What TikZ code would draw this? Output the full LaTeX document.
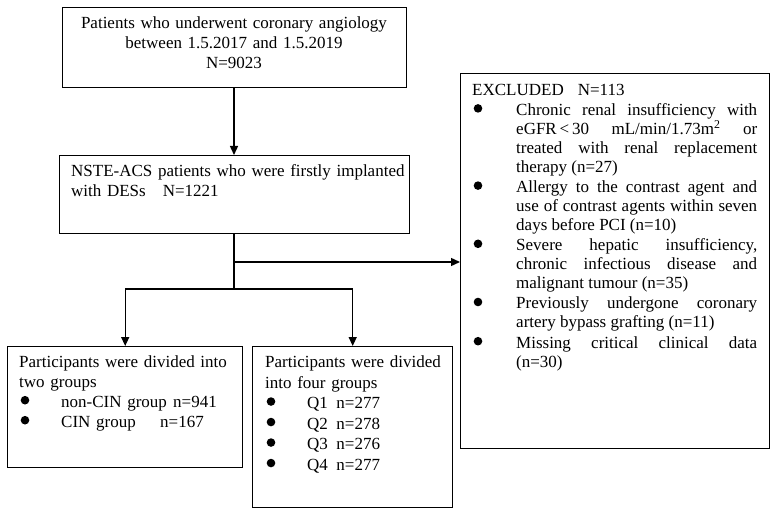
\documentclass[tikz,border=0pt]{standalone}
\usepackage{fontspec}
\setmainfont{Liberation Serif}
\usepackage{graphicx}
\usetikzlibrary{arrows.meta}
\newcommand{\blt}{\hspace{1.5pt}\tikz[baseline=-7pt]\fill (0pt,0pt) circle[radius=4.3pt];}
\begin{document}
\begin{tikzpicture}[x=1pt,y=-1pt,
  box/.style={draw, line width=1.4pt, inner sep=0pt, anchor=north west},
  txt/.style={inner sep=0pt, anchor=north west, font=\fontsize{17}{20}\selectfont},
  conn/.style={line width=1.4pt},
  arr/.style={conn, -{Triangle[length=9pt,width=8pt]}}]
\useasboundingbox (0,0) rectangle (776,513);
% boxes
\node[box, minimum width=344pt, minimum height=80pt] (top) at (62,7) {};
\node[box, minimum width=350pt, minimum height=78pt] (nste) at (59,155) {};
\node[box, minimum width=309pt, minimum height=375pt] (excl) at (460,73) {};
\node[box, minimum width=235pt, minimum height=121pt] (left) at (7,346) {};
\node[box, minimum width=200pt, minimum height=161pt] (right) at (252,346) {};
% texts
\node[txt, anchor=north, text width=340pt, align=center] (topt) at (234,14)
  {\strut Patients who underwent coronary angiology\\ between 1.5.2017 and 1.5.2019\\ N=9023};
\node[txt, text width=335pt, align=left] (nstet) at (71,162)
  {\strut NSTE-ACS patients who were firstly implanted\\ with DESs\hspace{17pt}N=1221};
\node[txt, text width=225pt, align=left] (leftt) at (19,353)
  {\strut Participants were divided into\\ two groups\\
   \makebox[42pt][l]{\blt}\makebox[112pt][l]{non-CIN group}n=941\\
   \makebox[42pt][l]{\blt}\makebox[99pt][l]{CIN group}n=167};
\node[txt, text width=185pt, align=left, font=\fontsize{17}{20.5}\selectfont] (rightt) at (265,353)
  {\strut Participants were divided\\ into four groups\\
   \makebox[42pt][l]{\blt}Q1\hspace{8.5pt}n=277\\
   \makebox[42pt][l]{\blt}Q2\hspace{8.5pt}n=278\\
   \makebox[42pt][l]{\blt}Q3\hspace{8.5pt}n=276\\
   \makebox[42pt][l]{\blt}Q4\hspace{8.5pt}n=277};
\node[txt, text width=285pt, align=justify, font=\fontsize{17}{19}\selectfont] (exclt) at (472,81.7)
  {\setlength{\parskip}{1.2pt}\noindent\strut EXCLUDED\hspace{14pt}N=113\par
   \hangindent=44pt\hangafter=1\noindent\makebox[44pt][l]{\blt}Chronic renal insufficiency with\linebreak
   eGFR\,<\,30 mL/min/1.73m\textsuperscript{2} or\linebreak treated with renal replacement\linebreak therapy (n=27)\par
   \hangindent=44pt\hangafter=1\noindent\makebox[44pt][l]{\blt}Allergy to the contrast agent and\linebreak
   use of contrast agents within seven\linebreak days before PCI (n=10)\par
   \hangindent=44pt\hangafter=1\noindent\makebox[44pt][l]{\blt}Severe hepatic insufficiency,\linebreak
   chronic infectious disease and\linebreak malignant tumour (n=35)\par
   \hangindent=44pt\hangafter=1\noindent\makebox[44pt][l]{\blt}Previously undergone coronary\linebreak
   artery bypass grafting (n=11)\par
   \hangindent=44pt\hangafter=1\noindent\makebox[44pt][l]{\blt}Missing critical clinical data\linebreak
   (n=30)\par};
% connectors
\coordinate (branch) at (234,262);
\coordinate (split) at (234,289);
\draw[arr] (top.south -| 234,0) -- (nste.north -| 234,0);
\draw[conn] (nste.south -| 234,0) -- (split);
\draw[arr] (branch) -- (branch -| excl.west);
\draw[arr] (split) -| (left.north);
\draw[arr] (split) -| (right.north);
\end{tikzpicture}
\end{document}
